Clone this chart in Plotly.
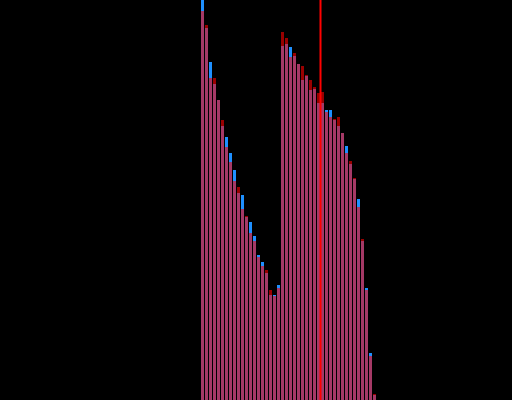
import plotly.graph_objects as go

bins = list(range(44))
blue_tops = [0, 28, 62, 84, 100, 126, 137, 153, 170, 193, 195, 217, 222, 236, 255, 262, 273, 295, 295, 285,
             46, 44, 47, 56, 64, 80, 76, 90, 89, 103, 103, 110, 110, 120, 126, 133, 146, 164, 179, 199, 241, 288, 353, 395]
red_tops = [11, 25, 78, 78, 100, 120, 147, 162, 181, 187, 209, 216, 233, 241, 257, 266, 270, 290, 296, 288,
            32, 38, 57, 53, 64, 66, 75, 80, 87, 93, 92, 112, 117, 119, 117, 133, 153, 161, 178, 207, 239, 290, 356, 394]
series_a = [400 - t for t in blue_tops]
series_a[0] = 405
series_b = [400 - t for t in red_tops]
marker_x = 29.5

fig = go.Figure()
fig.add_trace(go.Bar(x=bins, y=series_a, marker=dict(color="#1E90FF", line=dict(width=0))))
fig.add_trace(go.Bar(x=bins, y=series_b, marker=dict(color="rgba(255,0,0,0.6)", line=dict(width=0))))
fig.add_vline(x=marker_x, line=dict(color="#FF0000", width=2))

fig.update_layout(
    width=512, height=400,
    margin=dict(l=0, r=0, t=0, b=0),
    paper_bgcolor="black", plot_bgcolor="black",
    barmode="overlay", bargap=0.25,
    showlegend=False,
    xaxis=dict(range=[-50.625, 77.375], visible=False, showgrid=False, zeroline=False),
    yaxis=dict(range=[0, 400], visible=False, showgrid=False, zeroline=False),
)
fig.write_html("out.html", config={"displayModeBar": False},
               post_script="document.body.style.margin='0';document.body.style.background='black';")
